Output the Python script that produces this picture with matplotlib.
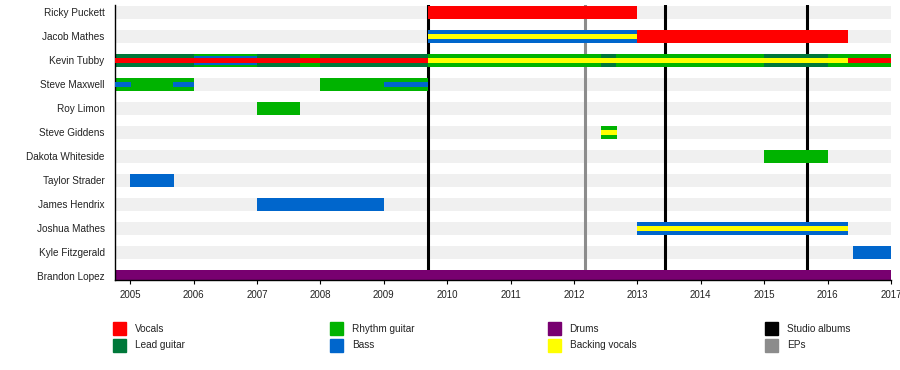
import matplotlib.pyplot as plt
import matplotlib.patches as mpatches

plt.rcParams['font.family'] = ['Liberation Sans', 'DejaVu Sans']

# timeline bounds (years)
start, end = 2004.76, 2017.0

members = ["Ricky Puckett", "Jacob Mathes", "Kevin Tubby", "Steve Maxwell",
           "Roy Limon", "Steve Giddens", "Dakota Whiteside", "Taylor Strader",
           "James Hendrix", "Joshua Mathes", "Kyle Fitzgerald", "Brandon Lopez"]

colors = {
    "Vocals": "#ff0000",
    "Lead guitar": "#00783a",
    "Rhythm guitar": "#00b300",
    "Bass": "#0066cc",
    "Drums": "#780070",
    "Backing vocals": "#ffff00",
}

# (role, from, to, stripe) - stripe 0 = full bar, 1 = medium, 2 = narrow
ricky = [("Vocals", 2009.69, 2013.0, 0)]
jacob = [("Bass", 2009.69, 2013.0, 0), ("Backing vocals", 2009.69, 2013.0, 2),
         ("Vocals", 2013.0, 2016.32, 0)]
kevin = [("Lead guitar", start, 2006.0, 0), ("Rhythm guitar", 2006.0, 2007.0, 0),
         ("Lead guitar", 2007.0, 2007.68, 0), ("Rhythm guitar", 2007.68, 2008.0, 0),
         ("Lead guitar", 2008.0, 2009.69, 0), ("Rhythm guitar", 2009.69, 2012.42, 0),
         ("Lead guitar", 2012.42, 2012.66, 0), ("Rhythm guitar", 2012.66, 2015.0, 0),
         ("Lead guitar", 2015.0, 2016.0, 0), ("Rhythm guitar", 2016.0, end, 0),
         ("Bass", 2006.0, 2007.0, 1),
         ("Vocals", start, 2009.69, 2), ("Backing vocals", 2009.69, 2016.32, 2),
         ("Vocals", 2016.32, end, 2)]
steve_m = [("Rhythm guitar", start, 2006.0, 0), ("Rhythm guitar", 2008.0, 2009.69, 0),
           ("Bass", start, 2005.02, 2), ("Bass", 2005.68, 2006.0, 2),
           ("Bass", 2009.0, 2009.69, 2)]
roy = [("Rhythm guitar", 2007.0, 2007.68, 0)]
steve_g = [("Rhythm guitar", 2012.42, 2012.68, 0), ("Backing vocals", 2012.42, 2012.68, 2)]
dakota = [("Rhythm guitar", 2015.0, 2016.0, 0)]
taylor = [("Bass", 2005.0, 2005.69, 0)]
james = [("Bass", 2007.0, 2009.01, 0)]
joshua = [("Bass", 2013.0, 2016.32, 0), ("Backing vocals", 2013.0, 2016.32, 2)]
kyle = [("Bass", 2016.4, end, 0)]
brandon = [("Drums", start, end, 0)]

periods = [ricky, jacob, kevin, steve_m, roy, steve_g, dakota, taylor,
           james, joshua, kyle, brandon]

studio_albums = [2009.69, 2013.43, 2015.68]
eps = [2012.17]

years = list(range(2005, 2018))

stripe_height = [0.54, 0.35, 0.19]

fig = plt.figure(figsize=(9, 3.7), dpi=100)
ax = fig.add_axes([115 / 900, 1 - 280 / 370, 776 / 900, 275 / 370])

for i, rows in enumerate(periods):
    # light grey band behind each member
    ax.barh(i, end - start, left=start, height=stripe_height[0],
            color="#f0f0f0", zorder=0)
    for role, a, b, s in sorted(rows, key=lambda r: r[3]):
        ax.barh(i, b - a, left=a, height=stripe_height[s],
                color=colors[role], zorder=2 + s)

for x in studio_albums:
    ax.axvline(x, color="black", lw=2.2, zorder=1)
for x in eps:
    ax.axvline(x, color="#8c8c8c", lw=2.2, zorder=1)

ax.set_xlim(start, end)
ax.set_ylim(11.146, -0.3125)
ax.set_yticks(range(len(members)))
ax.set_yticklabels(members, fontsize=7.2, color="#222222")
ax.tick_params(axis="y", length=0, pad=7.5)
ax.set_xticks(years)
ax.set_xticklabels([str(y) for y in years], fontsize=7.0, color="#222222")
ax.tick_params(axis="x", length=3, width=0.8, pad=4.5)
for side in ["top", "right"]:
    ax.spines[side].set_visible(False)
for side in ["left", "bottom"]:
    ax.spines[side].set_linewidth(1.0)

# legend, four columns of two
legend_items = [("Vocals", colors["Vocals"]), ("Lead guitar", colors["Lead guitar"]),
                ("Rhythm guitar", colors["Rhythm guitar"]), ("Bass", colors["Bass"]),
                ("Drums", colors["Drums"]), ("Backing vocals", colors["Backing vocals"]),
                ("Studio albums", "black"), ("EPs", "#8c8c8c")]
for k, (label, c) in enumerate(legend_items):
    col, row = divmod(k, 2)
    x0 = 113 + col * 217.3
    y0 = 322 + row * 17
    fig.patches.append(mpatches.Rectangle(
        (x0 / 900, 1 - (y0 + 13) / 370), 13 / 900, 13 / 370,
        transform=fig.transFigure, color=c, figure=fig))
    fig.text((x0 + 22) / 900, 1 - (y0 + 6.5) / 370, label,
             fontsize=7.2, va="center", ha="left", color="#222222")

fig.savefig("out.png", dpi=100)
